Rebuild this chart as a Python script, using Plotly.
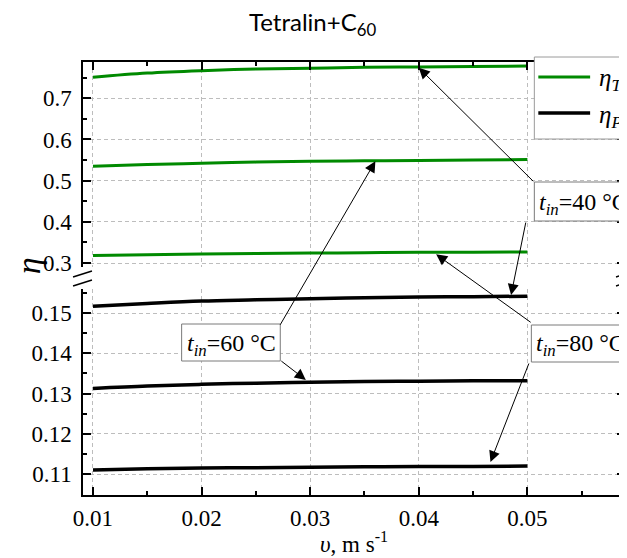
import plotly.graph_objects as go

# ---------------- data ----------------
velocity = [0.01, 0.015, 0.02, 0.025, 0.03, 0.035, 0.04, 0.045, 0.05]

eta_T_40 = [0.751, 0.761, 0.767, 0.771, 0.773, 0.775, 0.776, 0.777, 0.778]
eta_T_60 = [0.535, 0.539, 0.542, 0.545, 0.547, 0.548, 0.549, 0.550, 0.551]
eta_T_80 = [0.318, 0.320, 0.322, 0.323, 0.324, 0.325, 0.326, 0.326, 0.327]

eta_PV_40 = [0.1517, 0.1524, 0.1530, 0.1533, 0.1536, 0.1538, 0.1540, 0.1541, 0.1542]
eta_PV_60 = [0.1313, 0.1319, 0.1323, 0.1326, 0.1328, 0.1330, 0.1331, 0.1332, 0.1332]
eta_PV_80 = [0.1110, 0.1113, 0.1115, 0.1116, 0.1117, 0.1118, 0.1119, 0.1119, 0.1120]

temperature_labels = ["40", "60", "80"]
title_text = "Tetralin+C<sub>60</sub>"

# ---------------- layout constants ----------------
# the page body adds an 8px margin, so the figure is laid out 8px smaller
OFF = 8
W, H = 627 - OFF, 558 - OFF
ML, MR = 83 - OFF, 0
MT = 62 - OFF
MB = H - (495 - OFF)
PW = W - ML - MR
PH = H - MT - MB


def px(xr):
    """reference-screen x pixel -> paper x"""
    return (xr - OFF - ML) / PW


def py(yr):
    """reference-screen y pixel -> paper y"""
    return (H - MB - (yr - OFF)) / PH


GREEN = "#008a00"
SERIF = "Liberation Serif, Times New Roman, Times, serif"
GRID = "#bdbdbd"

fig = go.Figure()

for vals in (eta_T_40, eta_T_60, eta_T_80):
    fig.add_trace(go.Scatter(x=velocity, y=vals, mode="lines", xaxis="x2", yaxis="y2",
                             line=dict(color=GREEN, width=3, shape="spline"),
                             name="η_T", showlegend=False))
for vals in (eta_PV_40, eta_PV_60, eta_PV_80):
    fig.add_trace(go.Scatter(x=velocity, y=vals, mode="lines", xaxis="x", yaxis="y",
                             line=dict(color="black", width=3.5, shape="spline"),
                             name="η_PV", showlegend=False))

tickfont = dict(family=SERIF, size=23, color="black")
common_x = dict(range=[0.00908, 0.05899], tick0=0.01, dtick=0.01, ticks="inside", ticklen=8,
                tickwidth=1.5, tickcolor="black", showline=True, linecolor="black", linewidth=1.5,
                showgrid=True, gridcolor=GRID, gridwidth=1, griddash="4px,3px", zeroline=False,
                minor=dict(dtick=0.005, tick0=0.005, ticks="inside", ticklen=4, tickwidth=1.5,
                           tickcolor="black", showgrid=False))
common_y = dict(ticks="inside", ticklen=8, tickwidth=1.5, tickcolor="black", showline=True,
                linecolor="black", linewidth=1.5, mirror="ticks", showgrid=True, gridcolor=GRID,
                gridwidth=1, griddash="4px,3px", zeroline=False, tickfont=tickfont,
                ticklabelstandoff=5)

bottom_top = py(289)
top_bottom = py(267)

fig.update_layout(
    width=W, height=H, margin=dict(l=ML, r=MR, t=MT, b=MB),
    paper_bgcolor="white", plot_bgcolor="white", showlegend=False,
    xaxis=dict(domain=[0, 1], anchor="y", side="bottom", tickformat=".2f", tickfont=tickfont,
               ticklabelstandoff=2, **common_x),
    xaxis2=dict(domain=[0, 1], anchor="y2", side="top", matches="x", showticklabels=False,
                **common_x),
    yaxis=dict(domain=[0, bottom_top], anchor="x", range=[0.1048, 0.1560], tick0=0.11,
               dtick=0.01, tickformat=".2f",
               minor=dict(dtick=0.005, tick0=0.105, ticks="inside", ticklen=4, tickwidth=1.5,
                          tickcolor="black", showgrid=False), **common_y),
    yaxis2=dict(domain=[top_bottom, 1], anchor="x2", range=[0.2903, 0.788], tick0=0.3,
                dtick=0.1, tickformat=".1f",
                minor=dict(dtick=0.05, tick0=0.25, ticks="inside", ticklen=4, tickwidth=1.5,
                           tickcolor="black", showgrid=False), **common_y),
)

shapes = []
# axis break marks (left and right)
for x0 in (73, 618):
    for yb in (277, 286):
        shapes.append(dict(type="line", xref="paper", yref="paper",
                           x0=px(x0), y0=py(yb), x1=px(x0 + 19), y1=py(yb - 6),
                           line=dict(color="black", width=1.5)))
# legend box
shapes.append(dict(type="rect", xref="paper", yref="paper", x0=px(536), x1=px(720),
                   y0=py(139), y1=py(57), line=dict(color="#9a9a9a", width=1),
                   fillcolor="white", layer="above"))
shapes.append(dict(type="line", xref="paper", yref="paper", x0=px(540), x1=px(592),
                   y0=py(77), y1=py(77), line=dict(color=GREEN, width=3)))
shapes.append(dict(type="line", xref="paper", yref="paper", x0=px(540), x1=px(592),
                   y0=py(113), y1=py(113), line=dict(color="black", width=3.5)))
# label boxes
box_px = {"40": (536, 720, 182, 221), "60": (182, 281, 324, 361), "80": (533, 720, 325, 362)}
for lab in temperature_labels:
    x0, x1, y0, y1 = box_px[lab]
    shapes.append(dict(type="rect", xref="paper", yref="paper", x0=px(x0), x1=px(x1),
                       y0=py(y1), y1=py(y0), line=dict(color="#7a7a7a", width=1),
                       fillcolor="white", layer="above"))
fig.update_layout(shapes=shapes)

ann = []
# title
ann.append(dict(text=title_text, xref="paper", yref="paper", x=px(313), y=py(23),
                xanchor="center", yanchor="middle", showarrow=False,
                font=dict(family="Lato", size=24, color="black")))
# y title
ann.append(dict(text="<i>η</i>", xref="paper", yref="paper", x=px(28), y=py(266),
                xanchor="center", yanchor="middle", showarrow=False, textangle=-90,
                font=dict(family=SERIF, size=34, color="black")))
# x title
ann.append(dict(text="<i>υ</i>, m s<sup>-1</sup>", xref="paper", yref="paper", x=px(355), y=py(542),
                xanchor="center", yanchor="middle", showarrow=False,
                font=dict(family=SERIF, size=23, color="black")))
# legend texts
ann.append(dict(text="<i>η<sub>T</sub></i>", xref="paper", yref="paper", x=px(599), y=py(80),
                xanchor="left", yanchor="middle", showarrow=False,
                font=dict(family=SERIF, size=25, color="black")))
ann.append(dict(text="<i>η<sub>PV</sub></i>", xref="paper", yref="paper", x=px(599), y=py(116),
                xanchor="left", yanchor="middle", showarrow=False,
                font=dict(family=SERIF, size=25, color="black")))
# label texts
for lab in temperature_labels:
    x0, x1, y0, y1 = box_px[lab]
    ann.append(dict(text="<i>t</i><sub><i>in</i></sub>=" + lab + " °C", xref="paper", yref="paper",
                    x=px(x0 + 3), y=py((y0 + y1) / 2 + 2), xanchor="left", yanchor="middle",
                    showarrow=False, font=dict(family=SERIF, size=24, color="black")))

# arrows: (x, y, axis, ax, ay)
arrows = [
    (0.0400, 0.7740, "y2", 116, 115),
    (0.0485, 0.1545, "y", 15, -74),
    (0.0360, 0.5470, "y2", -96, 165),
    (0.0296, 0.1334, "y", -26, -20),
    (0.0416, 0.3210, "y2", 96, 69),
    (0.0466, 0.1130, "y", 39, -100),
]
for x, y, yr, ax, ay in arrows:
    ann.append(dict(text="", x=x, y=y, xref="x" if yr == "y" else "x2", yref=yr, ax=ax, ay=ay,
                    showarrow=True, arrowhead=2, arrowsize=2.2, arrowwidth=1,
                    arrowcolor="black", standoff=0, startstandoff=0))
fig.update_layout(annotations=ann)

fig.write_html("out.html")
